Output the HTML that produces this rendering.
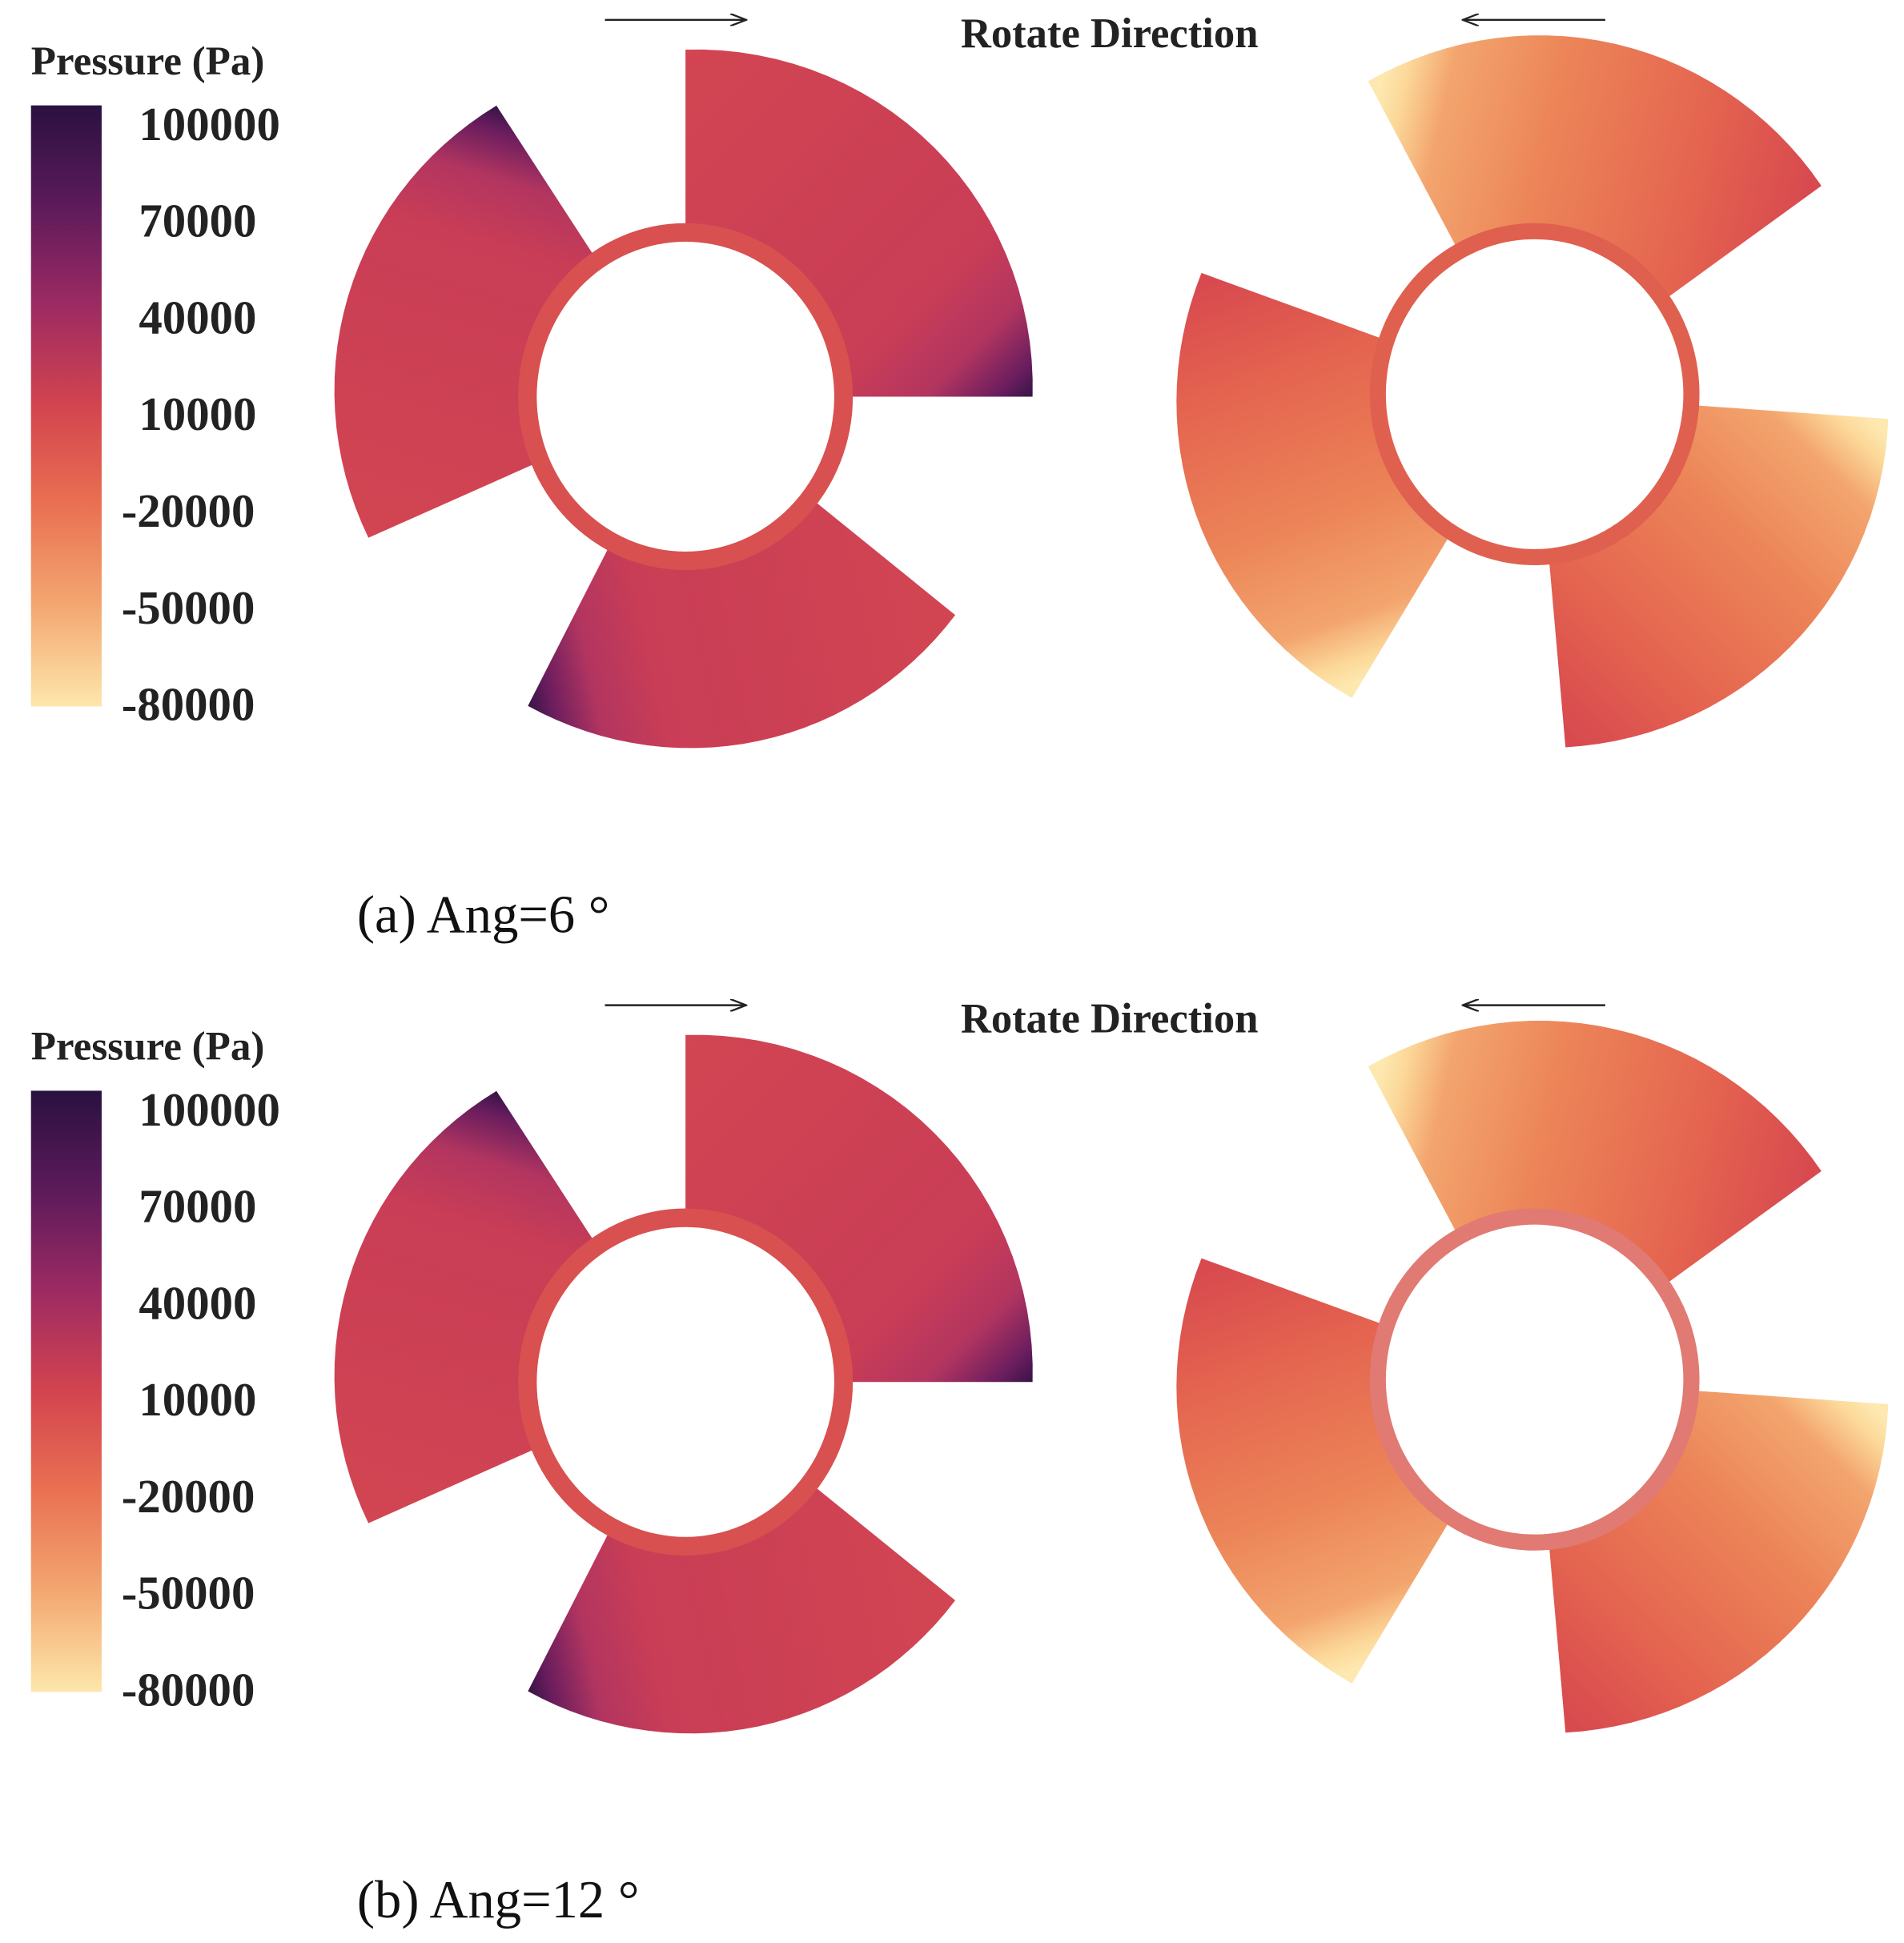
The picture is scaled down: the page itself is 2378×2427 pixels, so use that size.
<!DOCTYPE html>
<html><head><meta charset="utf-8"><style>
html,body{margin:0;padding:0;background:#fff;}
svg{display:block;}
text{font-family:"Liberation Serif",serif;}
</style></head><body>
<svg id="fig" width="2378" height="2427" viewBox="0 0 1536 1567.6" xmlns="http://www.w3.org/2000/svg">
<defs>
<linearGradient id="cbar" x1="0" y1="0" x2="0" y2="1">
<stop offset="0" stop-color="#2a1140"/><stop offset="0.16" stop-color="#5a1a5a"/>
<stop offset="0.33" stop-color="#9c2a62"/><stop offset="0.5" stop-color="#d3444f"/>
<stop offset="0.66" stop-color="#e96f52"/><stop offset="0.83" stop-color="#f3a670"/>
<stop offset="1" stop-color="#fde7ab"/></linearGradient>
<marker id="ah" markerWidth="14" markerHeight="10" refX="13" refY="5" orient="auto" markerUnits="userSpaceOnUse">
<path d="M0,0 L13,5 L0,10" fill="none" stroke="#222" stroke-width="1.5"/></marker>
</defs>
<g id="root"></g>
</svg>
<script>
const tickLabels = ["100000","70000","40000","10000","-20000","-50000","-80000"];
const captions = ["(a) Ang=6 °","(b) Ang=12 °"];
// blade angular spans (degrees, math convention)
const leftStart = [0, 123, 243];
const leftEnd = [90, 204, 321];
const rightStart = [36, -85, 160];
const rightEnd = [118, -4, 239];

const NS="http://www.w3.org/2000/svg";
const root=document.getElementById('root');
const defs=document.querySelector('defs');
let gid=0;
function mk(tag,attrs,parent){const e=document.createElementNS(NS,tag);for(const k in attrs)e.setAttribute(k,attrs[k]);(parent||root).appendChild(e);return e;}
function pt(cx,cy,r,a){const t=a*Math.PI/180;return [cx+r*Math.cos(t),cy-r*Math.sin(t)];}
function grad(p1,p2,stops){const id='g'+(gid++);const g=mk('linearGradient',{id:id,gradientUnits:'userSpaceOnUse',x1:p1[0],y1:p1[1],x2:p2[0],y2:p2[1]},defs);stops.forEach(s=>mk('stop',{offset:s[0],'stop-color':s[1]},g));return id;}
function blade(cx,cy,a1,a2,R,fill,parent){
  const r0=128;const n=30;
  let d='';
  const a=pt(cx,cy,r0,a1);d+='M'+a[0]+','+a[1];
  for(let i=0;i<=n;i++){const an=a1+(a2-a1)*i/n;const rr=R+4*Math.sin(Math.PI*i/n);const q=pt(cx,cy,rr,an);d+=' L'+q[0]+','+q[1];}
  const b=pt(cx,cy,r0,a2);d+=' L'+b[0]+','+b[1]+' Z';
  return mk('path',{d:d,fill:fill},parent);
}
function panel(dy,idx){
  const g=mk('g',{transform:'translate(0,'+dy+')'});
  
  
  const cb=mk('rect',{x:25,y:85,width:57,height:485,fill:'url(#cbar)'},g);
  
  
  const tt=mk('text',{x:25,y:60,'font-size':33,'font-weight':'bold',fill:'#222'},g);tt.textContent='Pressure (Pa)';
  
  
  tickLabels.forEach((t,i)=>{
    const y=100+i*78;
    const x=t.startsWith('-')?98:112;
    const e=mk('text',{x:x,y:y+13,'font-size':38,'font-weight':'bold',fill:'#222'},g);e.textContent=t;
    
    
  });
  const ar1=mk('line',{x1:488,y1:16,x2:602,y2:16,stroke:'#222','stroke-width':1.6,'marker-end':'url(#ah)'},g);
  
  
  const ar2=mk('line',{x1:1295,y1:16,x2:1180,y2:16,stroke:'#222','stroke-width':1.6,'marker-end':'url(#ah)'},g);
  
  
  const rt=mk('text',{x:775,y:38,'font-size':34,'font-weight':'bold',fill:'#222'},g);rt.textContent='Rotate Direction';
  
  
  const lc=[553,320];
  leftStart.forEach((s,i)=>{
    const e0=leftEnd[i];
    const id=grad(pt(lc[0],lc[1],285,s),pt(lc[0],lc[1],285,e0),[[0,'#2d1242'],[0.06,'#6a1d5e'],[0.16,'#b23560'],[0.3,'#c93d56'],[1,'#d24552']]);
    const b=blade(lc[0],lc[1],s,e0,280,'url(#'+id+')',g);
    
    
  });
  const h1=mk('ellipse',{cx:lc[0],cy:lc[1],rx:135,ry:140,fill:'#d8504f'},g);
  
  
  mk('ellipse',{cx:lc[0],cy:lc[1],rx:120,ry:125,fill:'#fff'},g);
  const rc=[1238,318];
  rightStart.forEach((s,i)=>{
    const e0=rightEnd[i];
    const id=grad(pt(rc[0],rc[1],270,s),pt(rc[0],rc[1],270,e0),[[0,'#d84a4f'],[0.25,'#e4634f'],[0.6,'#ec8458'],[0.85,'#f3a56e'],[0.95,'#fcd99a'],[1,'#fde8b0']]);
    const b=blade(rc[0],rc[1],s,e0,286,'url(#'+id+')',g);
    
    
  });
  const h2=mk('ellipse',{cx:rc[0],cy:rc[1],rx:133,ry:138,fill:idx?'#e07a72':'#e0604f'},g);
  
  
  mk('ellipse',{cx:rc[0],cy:rc[1],rx:120,ry:125,fill:'#fff'},g);
  const cap=mk('text',{x:288,y:752,'font-size':43,fill:'#111'},g);cap.textContent=captions[idx];
  
  
}
panel(0,0);
panel(795,1);
</script>
</body></html>
